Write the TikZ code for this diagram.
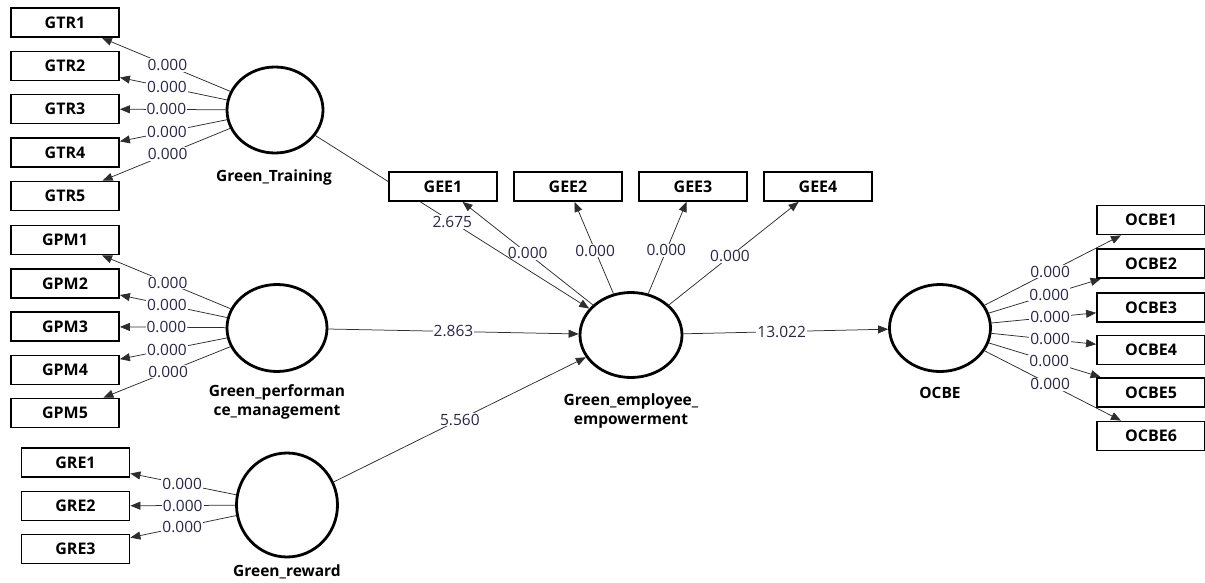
\documentclass[tikz,border=0pt]{standalone}
\usepackage{fontspec}
\setmainfont{Open Sans}
\usetikzlibrary{shapes.geometric,arrows.meta}
\pgfdeclarelayer{background}
\pgfsetlayers{background,main}
\definecolor{numcol}{RGB}{40,40,70}
\definecolor{linecol}{RGB}{45,45,45}
\begin{document}
\begin{tikzpicture}[x=1pt,y=-1pt,
  ind/.style={draw,line width=1.8pt,fill=white,minimum width=108pt,minimum height=29pt,inner sep=0pt,font=\fontsize{16}{18}\selectfont\bfseries},
  lv/.style={ellipse,draw,line width=2.8pt,fill=white,inner sep=0pt},
  lvlab/.style={font=\fontsize{15.5}{19}\selectfont\bfseries,align=center},
  conn/.style={draw=linecol,line width=0.75pt,-{Triangle[length=10pt,width=8pt]}},
  lab/.style={fill=white,inner sep=1pt,text=numcol,font=\fontsize{15.5}{17}\selectfont}]
\useasboundingbox (0,0) rectangle (1205,583);
% indicators
\node[ind] (GTR1) at (65,22.5) {GTR1};
\node[ind] (GTR2) at (65,66) {GTR2};
\node[ind] (GTR3) at (65,109) {GTR3};
\node[ind] (GTR4) at (65,152.5) {GTR4};
\node[ind] (GTR5) at (65,196) {GTR5};
\node[ind] (GPM1) at (65,240) {GPM1};
\node[ind] (GPM2) at (65,283.5) {GPM2};
\node[ind] (GPM3) at (65,326.5) {GPM3};
\node[ind] (GPM4) at (65,370) {GPM4};
\node[ind] (GPM5) at (65,413) {GPM5};
\node[ind] (GRE1) at (75.5,462.5) {GRE1};
\node[ind] (GRE2) at (75.5,506) {GRE2};
\node[ind] (GRE3) at (75.5,549) {GRE3};
\node[ind] (GEE1) at (443,186.5) {GEE1};
\node[ind] (GEE2) at (568,186.5) {GEE2};
\node[ind] (GEE3) at (693,186.5) {GEE3};
\node[ind] (GEE4) at (818,186.5) {GEE4};
\node[ind] (OCBE1) at (1151,220) {OCBE1};
\node[ind] (OCBE2) at (1151,263.5) {OCBE2};
\node[ind] (OCBE3) at (1151,307.5) {OCBE3};
\node[ind] (OCBE4) at (1151,350) {OCBE4};
\node[ind] (OCBE5) at (1151,392.5) {OCBE5};
\node[ind] (OCBE6) at (1151,436) {OCBE6};
% latent variables
\node[lv,minimum width=96pt,minimum height=86pt] (GT) at (275,110) {};
\node[lv,minimum width=100pt,minimum height=87pt] (GP) at (277,328) {};
\node[lv,minimum width=101pt,minimum height=104pt] (GR) at (287,505) {};
\node[lv,minimum width=102pt,minimum height=85pt] (GE) at (631,335) {};
\node[lv,minimum width=101pt,minimum height=87pt] (OC) at (940,328) {};
\node[lvlab] (GTl) at (274,177) {Green\_Training};
\node[lvlab] (GPl) at (277,402) {Green\_performan\\ce\_management};
\node[lvlab] (GEl) at (631,411) {Green\_employee\_\\empowerment};
\node[lvlab] (OCl) at (940,393) {OCBE};
\node[lvlab] (GRl) at (287,572) {Green\_reward};
\begin{pgfonlayer}{background}
% Green_Training
\draw[conn] (GT) -- node[lab,pos=0.49]{0.000} (GTR1);
\draw[conn] (GT) -- node[lab,pos=0.56]{0.000} (GTR2);
\draw[conn] (GT) -- node[lab,pos=0.56]{0.000} (GTR3);
\draw[conn] (GT) -- node[lab,pos=0.56]{0.000} (GTR4);
\draw[conn] (GT) -- node[lab,pos=0.49]{0.000} (GTR5);
% Green_performance_management
\draw[conn] (GP) -- node[lab,pos=0.49]{0.000} (GPM1);
\draw[conn] (GP) -- node[lab,pos=0.56]{0.000} (GPM2);
\draw[conn] (GP) -- node[lab,pos=0.56]{0.000} (GPM3);
\draw[conn] (GP) -- node[lab,pos=0.56]{0.000} (GPM4);
\draw[conn] (GP) -- node[lab,pos=0.49]{0.000} (GPM5);
% Green_reward
\draw[conn] (GR) -- node[lab,pos=0.51]{0.000} (GRE1);
\draw[conn] (GR) -- node[lab,pos=0.5]{0.000} (GRE2);
\draw[conn] (GR) -- node[lab,pos=0.51]{0.000} (GRE3);
% Green_employee_empowerment
\draw[conn] (GE) -- node[lab,pos=0.5]{0.000} (GEE1);
\draw[conn] (GE) -- node[lab,pos=0.47]{0.000} (GEE2);
\draw[conn] (GE) -- node[lab,pos=0.47]{0.000} (GEE3);
\draw[conn] (GE) -- node[lab,pos=0.47]{0.000} (GEE4);
% OCBE
\draw[conn] (OC) -- node[lab,pos=0.48]{0.000} (OCBE1);
\draw[conn] (OC) -- node[lab,pos=0.54]{0.000} (OCBE2);
\draw[conn] (OC) -- node[lab,pos=0.56]{0.000} (OCBE3);
\draw[conn] (OC) -- node[lab,pos=0.56]{0.000} (OCBE4);
\draw[conn] (OC) -- node[lab,pos=0.54]{0.000} (OCBE5);
\draw[conn] (OC) -- node[lab,pos=0.48]{0.000} (OCBE6);
% structural paths
\draw[conn] (GT) -- node[lab,pos=0.5]{2.675} (GE);
\draw[conn] (GP) -- node[lab,pos=0.5]{2.863} (GE);
\draw[conn] (GR) -- node[lab,pos=0.5]{5.560} (GE);
\draw[conn] (GE) -- node[lab,pos=0.48]{13.022} (OC);
\end{pgfonlayer}
\end{tikzpicture}
\end{document}
